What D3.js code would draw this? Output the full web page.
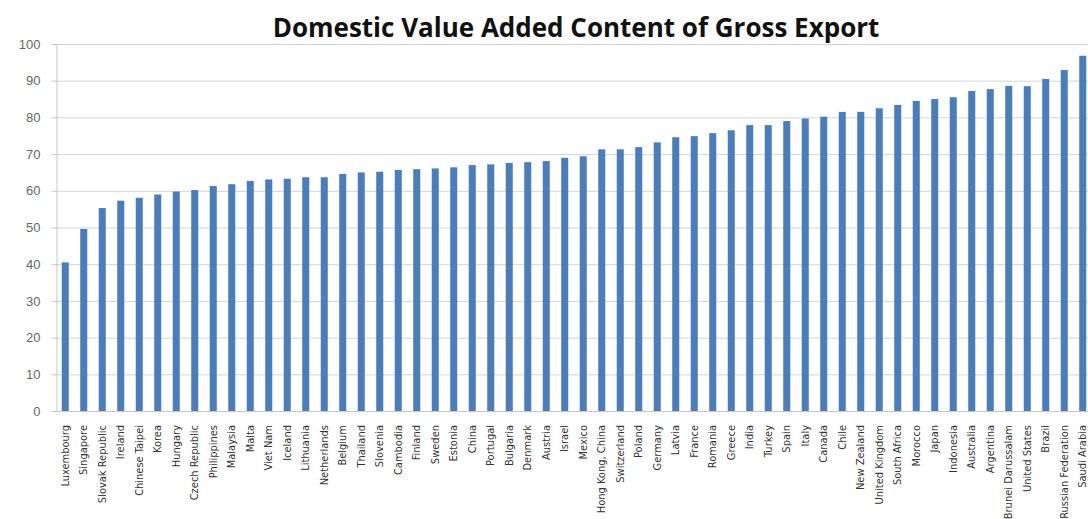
<!DOCTYPE html>
<html><head><meta charset="utf-8">
<script src="https://cdn.jsdelivr.net/npm/d3@7"></script>
<style>body{margin:0;background:#fff;}svg{display:block;}</style>
</head><body>
<svg id="c" width="1088" height="519"></svg>
<script>
const countries = ["Luxembourg","Singapore","Slovak Republic","Ireland","Chinese Taipei","Korea","Hungary","Czech Republic","Philippines","Malaysia","Malta","Viet Nam","Iceland","Lithuania","Netherlands","Belgium","Thailand","Slovenia","Cambodia","Finland","Sweden","Estonia","China","Portugal","Bulgaria","Denmark","Austria","Israel","Mexico","Hong Kong, China","Switzerland","Poland","Germany","Latvia","France","Romania","Greece","India","Turkey","Spain","Italy","Canada","Chile","New Zealand","United Kingdom","South Africa","Morocco","Japan","Indonesia","Australia","Argentina","Brunei Darussalam","United States","Brazil","Russian Federation","Saudi Arabia"];
const values = [40.5,49.6,55.3,57.3,58.1,59.0,59.8,60.2,61.3,61.8,62.7,63.1,63.3,63.7,63.7,64.6,65.0,65.2,65.7,65.9,66.1,66.4,67.0,67.2,67.6,67.8,68.1,69.0,69.4,71.3,71.3,71.9,73.2,74.6,74.9,75.7,76.5,77.9,77.9,79.0,79.7,80.2,81.5,81.5,82.5,83.4,84.5,85.0,85.5,87.2,87.7,88.6,88.5,90.5,92.9,96.8];
const yTicks = [0,10,20,30,40,50,60,70,80,90,100];
const title = "Domestic Value Added Content of Gross Export";

(function(){
const svg = d3.select("#c");
const mLeft = 56, mRight = 1092, mTop = 44, mBottom = 411;
const x = d3.scaleBand().domain(countries).range([mLeft, mRight]).paddingInner(0.62).paddingOuter(0.31);
const y = d3.scaleLinear().domain([0,100]).range([mBottom, mTop]);

svg.append("g").selectAll("line").data(yTicks.filter(d=>d>0)).join("line")
  .attr("x1", mLeft).attr("x2", 1088)
  .attr("y1", d=>y(d)+0.5).attr("y2", d=>y(d)+0.5)
  .attr("stroke", "#d4d4d4").attr("stroke-width", 1);

const ya = svg.append("g").attr("transform", `translate(${mLeft+0.5},0)`)
  .call(d3.axisLeft(y).tickValues(yTicks).tickSize(5).tickPadding(11));
ya.select(".domain").attr("stroke", "#c8c8c8");
ya.selectAll(".tick line").attr("stroke", "#c8c8c8");
ya.selectAll(".tick text").attr("font-family", "Liberation Sans, Arial, sans-serif")
  .attr("font-size", 13).attr("fill", "#666");

svg.append("line").attr("x1", mLeft).attr("x2", 1088).attr("y1", mBottom+0.5).attr("y2", mBottom+0.5)
  .attr("stroke", "#c8c8c8");

svg.append("g").selectAll("rect").data(values).join("rect")
  .attr("x", (d,i)=>x(countries[i]))
  .attr("width", x.bandwidth())
  .attr("y", d=>y(d))
  .attr("height", d=>y(0)-y(d))
  .attr("fill", "#4a7dbb");

svg.append("g").selectAll("text").data(countries).join("text")
  .attr("transform", d=>`translate(${x(d)+x.bandwidth()/2+3.5},${mBottom+14}) rotate(-90)`)
  .attr("text-anchor", "end")
  .attr("font-family", "Liberation Sans Narrow, DejaVu Sans Condensed, Arial, sans-serif")
  .attr("font-size", 11).attr("fill", "#333")
  .text(d=>d);

svg.append("text").attr("x", 576).attr("y", 37).attr("text-anchor", "middle")
  .attr("font-family", "Open Sans, Liberation Sans, Arial, sans-serif")
  .attr("font-weight", "bold").attr("font-size", 26).attr("fill", "#111")
  .text(title);
})();
</script>
</body></html>
